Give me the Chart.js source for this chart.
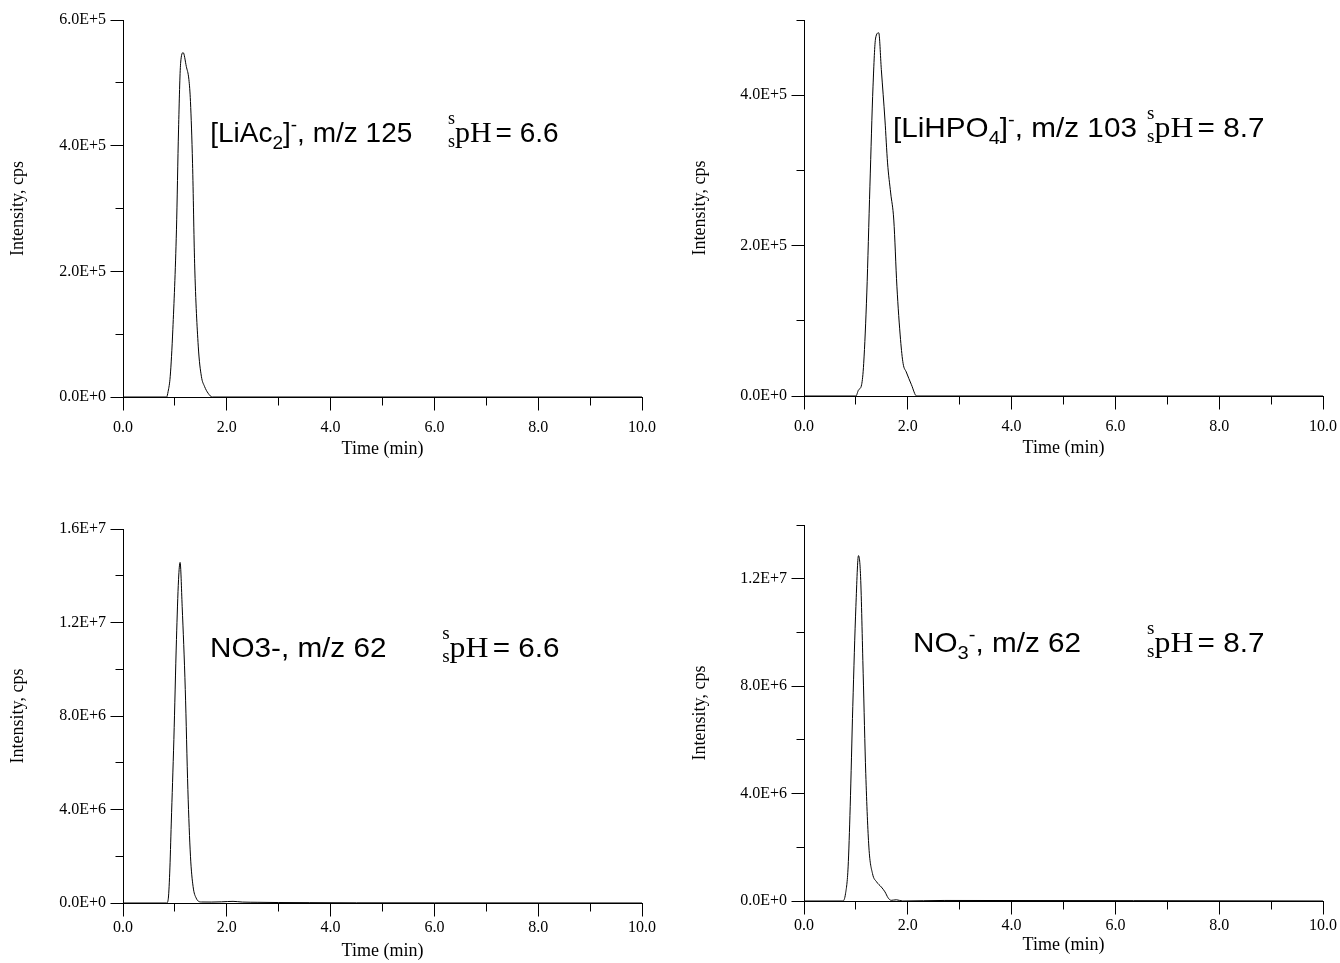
<!DOCTYPE html>
<html><head><meta charset="utf-8">
<script src="https://cdn.jsdelivr.net/npm/chart.js@4.4.0/dist/chart.umd.min.js"></script>
<style>
html,body{margin:0;padding:0;background:#fff;}
#wrap{position:relative;width:1340px;height:963px;overflow:hidden;background:#fff;}
canvas{position:absolute;}
</style></head><body>
<div id="wrap">
<canvas id="c1" width="670" height="470" style="left:0px;top:0px"></canvas>
<canvas id="c2" width="670" height="470" style="left:670px;top:0px"></canvas>
<canvas id="c3" width="670" height="483" style="left:0px;top:480px"></canvas>
<canvas id="c4" width="670" height="483" style="left:670px;top:480px"></canvas>
</div>
<script>
// ---------- data ----------
// Panel 1: [LiAc2]-, m/z 125, pH 6.6
const timeLiAc = [0, 0.84, 0.87, 0.91, 0.96, 1.03, 1.07, 1.11, 1.16, 1.22, 1.27, 1.30, 1.34, 1.38, 1.45, 1.51, 1.57, 1.64, 1.72, 10];
const intLiAc  = [0, 0, 9000, 33000, 107000, 266000, 425000, 531000, 548000, 526000, 505000, 470000, 372000, 213000, 81000, 33000, 17000, 6000, 0, 0];
// Panel 2: [LiHPO4]-, m/z 103, pH 8.7
const timeLiHPO4 = [0, 1.00, 1.05, 1.11, 1.15, 1.21, 1.27, 1.33, 1.38, 1.44, 1.49, 1.56, 1.61, 1.67, 1.73, 1.79, 1.86, 1.91, 1.97, 2.07, 2.17, 10];
const intLiHPO4  = [0, 0, 8000, 15000, 43000, 137000, 279000, 412000, 476000, 483000, 434000, 367000, 310000, 270000, 234000, 146000, 75000, 43000, 32000, 15000, 0, 0];
// Panel 3: NO3-, m/z 62, pH 6.6
const timeNO3a = [0, 0.84, 0.87, 0.90, 0.93, 0.98, 1.03, 1.07, 1.10, 1.14, 1.20, 1.25, 1.30, 1.35, 1.41, 1.51, 1.70, 1.90, 2.12, 2.30, 2.60, 3.00, 3.60, 4.50, 6.00, 8.00, 10];
const intNO3a  = [0, 0, 140000, 1280000, 3420000, 6990000, 11270000, 13830000, 14570000, 12690000, 9130000, 4850000, 2000000, 710000, 210000, 43000, 40000, 50000, 70000, 40000, 30000, 20000, 15000, 8000, 5000, 3000, 0];
// Panel 4: NO3-, m/z 62, pH 8.7
const timeNO3b = [0, 0.75, 0.80, 0.85, 0.89, 0.94, 1.00, 1.05, 1.09, 1.14, 1.19, 1.25, 1.32, 1.40, 1.49, 1.56, 1.62, 1.68, 1.78, 1.90, 2.70, 10];
const intNO3b  = [0, 0, 270000, 1270000, 3510000, 7240000, 10970000, 12860000, 12090000, 8480000, 4750000, 2010000, 1020000, 710000, 520000, 340000, 120000, 25000, 45000, 0, 20000, 0];

// ---------- tick values ----------
const xMajorTicks = [0, 2, 4, 6, 8, 10];
const xMinorTicks = [1, 3, 5, 7, 9];
const yMajorLiAc = [0, 2e5, 4e5, 6e5];
const yMinorLiAc = [1e5, 3e5, 5e5];
const yMajorLiHPO4 = [0, 2e5, 4e5];
const yMinorLiHPO4 = [1e5, 3e5, 5e5];
const yMajorNO3a = [0, 4e6, 8e6, 1.2e7, 1.6e7];
const yMinorNO3a = [2e6, 6e6, 1e7, 1.4e7];
const yMajorNO3b = [0, 4e6, 8e6, 1.2e7];
const yMinorNO3b = [2e6, 6e6, 1e7, 1.4e7];

// ---------- annotation texts ----------
const labelLiAc   = [['[LiAc','n'], ['2','sub'], [']','n'], ['-','sup'], [', m/z 125','n']];
const labelLiHPO4 = [['[LiHPO','n'], ['4','sub'], [']','n'], ['-','sup'], [', m/z 103','n']];
const labelNO3a   = [['NO3-, m/z 62','n']];
const labelNO3b   = [['NO','n'], ['3','sub'], ['-','sup'], [', m/z 62','n']];
const pHValues = ['6.6', '8.7', '6.6', '8.7'];

const xTitle = 'Time (min)';
const yTitle = 'Intensity, cps';

const SANS = '"Liberation Sans", Arial, sans-serif';
const SERIF = '"Liberation Serif", "Times New Roman", serif';

const panels = [
  {id:'c1', t:timeLiAc, v:intLiAc, yMax:6e5, yMajor:yMajorLiAc, yMinor:yMinorLiAc, label:labelLiAc, pH:pHValues[0],
   pad:{left:0, top:20, right:28, bottom:10}, yWidth:123, xHeight:63, xLabelPad:8, yTitlePad:7,
   labelAt:[1.68, 4.06e5], phAt:[6.26, 4.06e5], stretch:1.0},
  {id:'c2', t:timeLiHPO4, v:intLiHPO4, yMax:5e5, yMajor:yMajorLiHPO4, yMinor:yMinorLiHPO4, label:labelLiHPO4, pH:pHValues[1],
   pad:{left:0, top:20, right:17, bottom:11}, yWidth:134, xHeight:63, xLabelPad:8, yTitlePad:19,
   labelAt:[1.715, 3.447e5], phAt:[6.61, 3.447e5], stretch:1.06},
  {id:'c3', t:timeNO3a, v:intNO3a, yMax:1.6e7, yMajor:yMajorNO3a, yMinor:yMinorNO3a, label:labelNO3a, pH:pHValues[2],
   pad:{left:0, top:49, right:28, bottom:1}, yWidth:123, xHeight:59, xLabelPad:2, yTitlePad:7,
   labelAt:[1.676, 1.052e7], phAt:[6.15, 1.052e7], stretch:1.06},
  {id:'c4', t:timeNO3b, v:intNO3b, yMax:1.4e7, yMajor:yMajorNO3b, yMinor:yMinorNO3b, label:labelNO3b, pH:pHValues[3],
   pad:{left:0, top:45, right:17, bottom:7}, yWidth:134, xHeight:55, xLabelPad:2, yTitlePad:19,
   labelAt:[2.10, 9.28e6], phAt:[6.61, 9.28e6], stretch:1.06}
];

const runStyle = {
  n:   {font:`28px ${SANS}`, dy:0},
  sub: {font:`19px ${SANS}`, dy:7},
  sup: {font:`19px ${SANS}`, dy:-11}
};

function drawRuns(ctx, x, y, runs) {
  for (const [txt, kind] of runs) {
    const st = runStyle[kind];
    ctx.font = st.font;
    ctx.fillText(txt, x, y + st.dy);
    x += ctx.measureText(txt).width;
  }
}

function drawPH(ctx, x, y, val) {
  ctx.font = `18px ${SERIF}`;
  ctx.fillText('s', x, y - 18);
  ctx.fillText('s', x, y + 5);
  x += ctx.measureText('s').width;
  ctx.font = `30px ${SERIF}`;
  ctx.fillText('pH', x, y);
  x += ctx.measureText('pH').width + 4;
  ctx.font = `28px ${SANS}`;
  ctx.fillText('= ' + val, x, y);
}

const decorPlugin = {
  id: 'decor',
  afterDatasetsDraw(chart) {
    const cfg = chart.options.plugins.decor;
    const ctx = chart.ctx, xs = chart.scales.x, ys = chart.scales.y;
    const al = p => Math.round(p - 0.5) + 0.5;
    const bottom = al(ys.getPixelForValue(0));
    const left = al(xs.getPixelForValue(0));
    ctx.save();
    ctx.strokeStyle = '#000';
    ctx.lineWidth = 1;
    ctx.beginPath();
    xMajorTicks.forEach(v => { const p = al(xs.getPixelForValue(v)); ctx.moveTo(p, bottom); ctx.lineTo(p, bottom + 13); });
    xMinorTicks.forEach(v => { const p = al(xs.getPixelForValue(v)); ctx.moveTo(p, bottom); ctx.lineTo(p, bottom + 8); });
    cfg.yMajor.forEach(v => { const p = al(ys.getPixelForValue(v)); ctx.moveTo(left - 13, p); ctx.lineTo(left, p); });
    cfg.yMinor.forEach(v => { const p = al(ys.getPixelForValue(v)); ctx.moveTo(left - 8, p); ctx.lineTo(left, p); });
    ctx.stroke();
    // annotations
    ctx.fillStyle = '#000';
    ctx.textBaseline = 'alphabetic';
    ctx.textAlign = 'left';
    const lx = xs.getPixelForValue(cfg.labelAt[0]), ly = ys.getPixelForValue(cfg.labelAt[1]);
    ctx.save(); ctx.translate(lx, ly); ctx.scale(cfg.stretch, 1);
    drawRuns(ctx, 0, 0, cfg.label);
    ctx.restore();
    const px = xs.getPixelForValue(cfg.phAt[0]), py = ys.getPixelForValue(cfg.phAt[1]);
    ctx.save(); ctx.translate(px, py); ctx.scale(cfg.stretch, 1);
    drawPH(ctx, 0, 0, cfg.pH);
    ctx.restore();
    ctx.restore();
  }
};

function fmtE(v) { return Number(v).toExponential(1).toUpperCase(); }

panels.forEach(p => {
  const pts = p.t.map((t, i) => ({x: t, y: p.v[i]}));
  new Chart(document.getElementById(p.id), {
    type: 'line',
    data: { datasets: [{ data: pts, borderColor: '#000', borderWidth: 1, pointRadius: 0, fill: false,
                         cubicInterpolationMode: 'monotone' }] },
    options: {
      responsive: false, animation: false, devicePixelRatio: 1,
      layout: { padding: p.pad },
      plugins: { legend: {display:false}, tooltip: {enabled:false},
                 decor: { yMajor: p.yMajor, yMinor: p.yMinor, label: p.label, pH: p.pH,
                          labelAt: p.labelAt, phAt: p.phAt, stretch: p.stretch } },
      scales: {
        x: {
          type: 'linear', min: 0, max: 10,
          afterBuildTicks: s => { s.ticks = xMajorTicks.map(v => ({value: v})); },
          afterFit: s => { s.height = p.xHeight; },
          grid: { display: false, drawTicks: true, tickLength: 13 + p.xLabelPad },
          border: { display: true, color: '#000', width: 1 },
          ticks: { color: '#000', font: {family: SERIF, size: 16}, padding: 0, maxRotation: 0, autoSkip: false,
                   callback: v => Number(v).toFixed(1) },
          title: { display: true, text: xTitle, color: '#000', font: {family: SERIF, size: 18}, padding: {top: 0, bottom: 0} }
        },
        y: {
          type: 'linear', min: 0, max: p.yMax,
          afterBuildTicks: s => { s.ticks = p.yMajor.map(v => ({value: v})); },
          afterFit: s => { s.width = p.yWidth; },
          grid: { display: false, drawTicks: true, tickLength: 13 },
          border: { display: true, color: '#000', width: 1 },
          ticks: { color: '#000', font: {family: SERIF, size: 16}, padding: 4, autoSkip: false, callback: v => fmtE(v) },
          title: { display: true, text: yTitle, color: '#000', font: {family: SERIF, size: 18}, padding: {top: p.yTitlePad, bottom: 0} }
        }
      }
    },
    plugins: [decorPlugin]
  });
});
</script>
</body></html>
